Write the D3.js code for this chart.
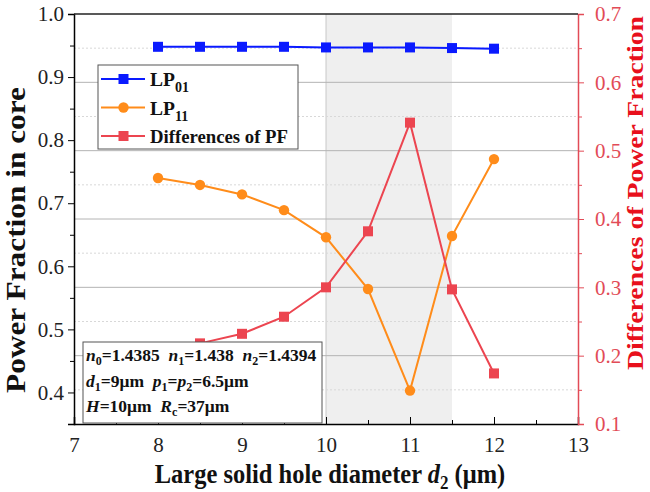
<!DOCTYPE html>
<html><head><meta charset="utf-8">
<script src="https://cdn.jsdelivr.net/npm/d3@7"></script>
<style>
body{margin:0;background:#fff;}
svg text{font-family:"Liberation Serif","Times New Roman",serif;}
</style></head>
<body><svg id="c" width="650" height="492"></svg>
<script>
const xVals = [8, 8.5, 9, 9.5, 10, 10.5, 11, 11.5, 12];
const lp01 = [0.948, 0.948, 0.948, 0.948, 0.947, 0.947, 0.947, 0.946, 0.945];
const lp11 = [0.740, 0.729, 0.714, 0.689, 0.646, 0.564, 0.403, 0.648, 0.770];
const diffPF = [0.208, 0.218, 0.232, 0.257, 0.300, 0.382, 0.541, 0.297, 0.174];
const xTicks = [7, 8, 9, 10, 11, 12, 13];
const yLeftTicks = [0.4, 0.5, 0.6, 0.7, 0.8, 0.9, 1.0];
const yRightTicks = [0.1, 0.2, 0.3, 0.4, 0.5, 0.6, 0.7];
const shadeRange = [10, 11.5];

const svg = d3.select("#c");
const L = 74, R = 578, T = 14, B = 424;
const x = d3.scaleLinear().domain([7, 13]).range([L, R]);
const yL = d3.scaleLinear().domain([0.35, 1.0]).range([B, T]);
const yR = d3.scaleLinear().domain([0.1, 0.7]).range([B, T]);

const blue = "#0a1aff", orange = "#ff8c1a", red = "#ec4550", axRed = "#e24b57";

// shading
svg.append("rect").attr("x", x(shadeRange[0])).attr("y", T)
  .attr("width", x(shadeRange[1]) - x(shadeRange[0])).attr("height", B - T)
  .attr("fill", "#efefef");
svg.append("line").attr("x1", x(shadeRange[0])).attr("x2", x(shadeRange[0]))
  .attr("y1", T).attr("y2", B).attr("stroke", "#c8c8c8").attr("stroke-width", 1);

// grid: right axis major (solid) and minor (dotted)
const rMinor = d3.range(0.15, 0.7, 0.1);
svg.append("g").selectAll("line").data(rMinor).join("line")
  .attr("x1", L).attr("x2", R).attr("y1", d => yR(d)).attr("y2", d => yR(d))
  .attr("stroke", "#d8d8d8").attr("stroke-dasharray", "2,2").attr("stroke-width", 1);
svg.append("g").selectAll("line").data(yRightTicks.slice(1, -1)).join("line")
  .attr("x1", L).attr("x2", R).attr("y1", d => yR(d)).attr("y2", d => yR(d))
  .attr("stroke", "#b4b4b4").attr("stroke-width", 1);

// axes
const fontTick = "21px";
const gx = svg.append("g").attr("transform", `translate(0,${B})`)
  .call(d3.axisBottom(x).tickValues(xTicks).tickSize(-7).tickPadding(13).tickFormat(d3.format("d")));
svg.append("g").attr("transform", `translate(0,${B})`)
  .call(d3.axisBottom(x).tickValues(d3.range(7.5, 13, 1)).tickSize(-4).tickFormat(""))
  .call(g => g.select(".domain").remove());
gx.selectAll("text").style("font-size", fontTick).attr("fill", "#222");

const gl = svg.append("g").attr("transform", `translate(${L},0)`)
  .call(d3.axisLeft(yL).tickValues(yLeftTicks).tickSize(6).tickPadding(4).tickFormat(d3.format(".1f")));
svg.append("g").attr("transform", `translate(${L},0)`)
  .call(d3.axisLeft(yL).tickValues(d3.range(0.45, 1.0, 0.1)).tickSize(4).tickFormat(""))
  .call(g => g.select(".domain").remove());
gl.selectAll("text").style("font-size", fontTick).attr("fill", "#222");

const gr = svg.append("g").attr("transform", `translate(${R},0)`)
  .call(d3.axisRight(yR).tickValues(yRightTicks).tickSize(6).tickPadding(11).tickFormat(d3.format(".1f")));
svg.append("g").attr("transform", `translate(${R},0)`)
  .call(d3.axisRight(yR).tickValues(rMinor).tickSize(4).tickFormat(""))
  .call(g => g.selectAll("line").attr("stroke", axRed))
  .call(g => g.select(".domain").remove());
gr.selectAll("line").attr("stroke", axRed);
gr.select(".domain").attr("stroke", axRed).attr("stroke-width", 1.5);
gr.selectAll("text").style("font-size", fontTick).attr("fill", axRed);
gx.select(".domain").attr("stroke-width", 1.5);
gl.select(".domain").attr("stroke-width", 1.5);
svg.append("line").attr("x1", L).attr("x2", R).attr("y1", T).attr("y2", T)
  .attr("stroke", "#222").attr("stroke-width", 1.5);

// series
function drawSeries(vals, yS, color, shape) {
  const pts = xVals.map((d, i) => [x(d), yS(vals[i])]);
  svg.append("path").attr("d", d3.line()(pts)).attr("fill", "none")
    .attr("stroke", color).attr("stroke-width", 2);
  const g = svg.append("g");
  if (shape === "square") {
    g.selectAll("rect").data(pts).join("rect")
      .attr("x", d => d[0] - 5).attr("y", d => d[1] - 5)
      .attr("width", 10).attr("height", 10).attr("fill", color);
  } else {
    g.selectAll("circle").data(pts).join("circle")
      .attr("cx", d => d[0]).attr("cy", d => d[1]).attr("r", 5.2).attr("fill", color);
  }
}
drawSeries(lp01, yL, blue, "square");
drawSeries(lp11, yL, orange, "circle");
drawSeries(diffPF, yR, red, "square");

// legend
const lg = svg.append("g");
lg.append("rect").attr("x", 98).attr("y", 65).attr("width", 200).attr("height", 84)
  .attr("fill", "#fff").attr("stroke", "#555").attr("stroke-width", 1);
const legItems = [
  {c: blue, s: "square", main: "LP", sub: "01"},
  {c: orange, s: "circle", main: "LP", sub: "11"},
  {c: red, s: "square", main: "Differences of PF", sub: ""}
];
legItems.forEach((it, i) => {
  const yy = 79 + i * 28.5;
  lg.append("line").attr("x1", 101).attr("x2", 145).attr("y1", yy).attr("y2", yy)
    .attr("stroke", it.c).attr("stroke-width", 2);
  if (it.s === "square") lg.append("rect").attr("x", 118.5).attr("y", yy - 5).attr("width", 10).attr("height", 10).attr("fill", it.c);
  else lg.append("circle").attr("cx", 123.5).attr("cy", yy).attr("r", 5.2).attr("fill", it.c);
  const t = lg.append("text").attr("x", 150).attr("y", yy + 7).attr("font-weight", "bold")
    .style("font-size", "19.5px").attr("fill", "#111");
  t.append("tspan").text(it.main);
  if (it.sub) t.append("tspan").attr("dy", 6).style("font-size", "14px").text(it.sub);
  if (!it.sub) t.attr("textLength", 138).attr("lengthAdjust", "spacingAndGlyphs");
});

// annotation box
const ab = svg.append("g");
ab.append("rect").attr("x", 83).attr("y", 342).attr("width", 239).attr("height", 81)
  .attr("fill", "#fff").attr("stroke", "#555").attr("stroke-width", 1);
const annLines = [
  [["n", "i"], ["0", "s"], ["=1.4385  ", ""], ["n", "i"], ["1", "s"], ["=1.438  ", ""], ["n", "i"], ["2", "s"], ["=1.4394", ""]],
  [["d", "i"], ["1", "s"], ["=9μm  ", ""], ["p", "i"], ["1", "s"], ["=", ""], ["p", "i"], ["2", "s"], ["=6.5μm", ""]],
  [["H", "i"], ["=10μm  ", ""], ["R", "i"], ["c", "s"], ["=37μm", ""]]
];
annLines.forEach((parts, i) => {
  const t = ab.append("text").attr("x", 86).attr("y", 361 + i * 25.5).attr("font-weight", "bold")
    .style("font-size", "17.5px").attr("fill", "#111").attr("xml:space", "preserve");
  let shifted = false;
  parts.forEach(([s, k]) => {
    const sp = t.append("tspan").text(s);
    if (k === "i") sp.attr("font-style", "italic");
    if (k === "s") { sp.style("font-size", "12px").attr("dy", shifted ? 0 : 4); shifted = true; }
    else if (shifted) { sp.attr("dy", -4); shifted = false; }
  });
});

// axis titles
svg.append("text").attr("transform", `translate(25,240) rotate(-90)`)
  .attr("text-anchor", "middle").attr("font-weight", "bold").style("font-size", "27px")
  .attr("textLength", 306).attr("lengthAdjust", "spacingAndGlyphs")
  .attr("fill", "#111").text("Power Fraction in core");
svg.append("text").attr("transform", `translate(643,193) rotate(-90)`)
  .attr("text-anchor", "middle").attr("font-weight", "bold").style("font-size", "24px")
  .attr("textLength", 354).attr("lengthAdjust", "spacingAndGlyphs")
  .attr("fill", "#e8101c").text("Differences of Power Fraction");
const xt = svg.append("text").attr("transform", "translate(330,483) scale(1,1.12)")
  .attr("text-anchor", "middle")
  .attr("font-weight", "bold").style("font-size", "24.5px").attr("fill", "#111");
xt.append("tspan").text("Large solid hole diameter ");
xt.append("tspan").attr("font-style", "italic").text("d");
xt.append("tspan").attr("dy", 5).style("font-size", "17px").text("2");
xt.append("tspan").attr("dy", -5).text(" (μm)");
</script></body></html>
